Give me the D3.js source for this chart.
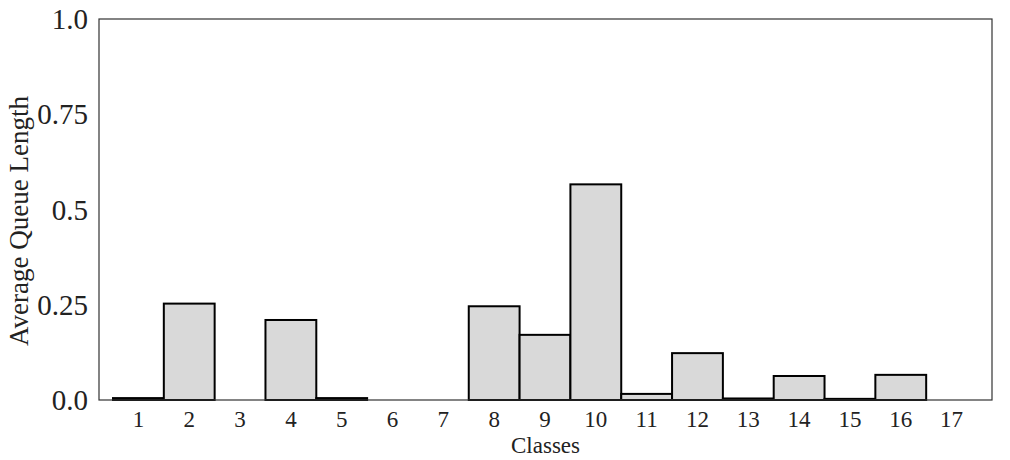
<!DOCTYPE html>
<html><head><meta charset="utf-8">
<script src="https://cdn.jsdelivr.net/npm/d3@7"></script>
<style>body{margin:0;background:#fff}svg{display:block}text{font-family:"Liberation Serif","Times New Roman",serif;fill:#222}</style>
</head><body><svg id="c" width="1010" height="460"></svg>
<script>
const categories = ["1","2","3","4","5","6","7","8","9","10","11","12","13","14","15","16","17"];
const values = [0.005,0.253,0,0.21,0.005,0,0,0.246,0.171,0.566,0.016,0.123,0.004,0.063,0.003,0.066,0];
const yTicks = [0,0.25,0.5,0.75,1.0];
const yTickLabels = ["0.0","0.25","0.5","0.75","1.0"];

const svg = d3.select("#c");
const L=99, R=992, T=19, B=400;
const x = d3.scaleBand().domain(categories).range([L+14, R-15]).padding(0);
const y = d3.scaleLinear().domain([0,1]).range([B,T]);

svg.append("g").selectAll("rect").data(values).join("rect")
  .attr("x",(d,i)=>x(categories[i]))
  .attr("y",d=>y(d))
  .attr("width",x.bandwidth())
  .attr("height",d=>B-y(d))
  .attr("fill","#d9d9d9").attr("stroke","#000").attr("stroke-width",2);

svg.append("rect").attr("x",L).attr("y",T).attr("width",R-L).attr("height",B-T)
  .attr("fill","none").attr("stroke","#333").attr("stroke-width",1.2);

const yAxis = d3.axisLeft(y).tickValues(yTicks).tickFormat((d,i)=>yTickLabels[i]).tickSize(0).tickPadding(11);
const gy = svg.append("g").attr("transform",`translate(${L},0)`).call(yAxis);
gy.select(".domain").remove();
gy.selectAll("text").style("font-size","29px").attr("dy","0.33em").style("fill","#222");

const xAxis = d3.axisBottom(x).tickSize(0).tickPadding(0);
const gx = svg.append("g").attr("transform",`translate(0,${B})`).call(xAxis);
gx.select(".domain").remove();
gx.selectAll("text").style("font-size","23px").attr("y",27).attr("dy",0).style("fill","#222");

svg.append("text").attr("x",(L+R)/2).attr("y",453).attr("text-anchor","middle").style("font-size","23px").text("Classes");
svg.append("text").attr("transform","translate(28,221) rotate(-90)").attr("text-anchor","middle").style("font-size","27px").text("Average Queue Length");
</script></body></html>
